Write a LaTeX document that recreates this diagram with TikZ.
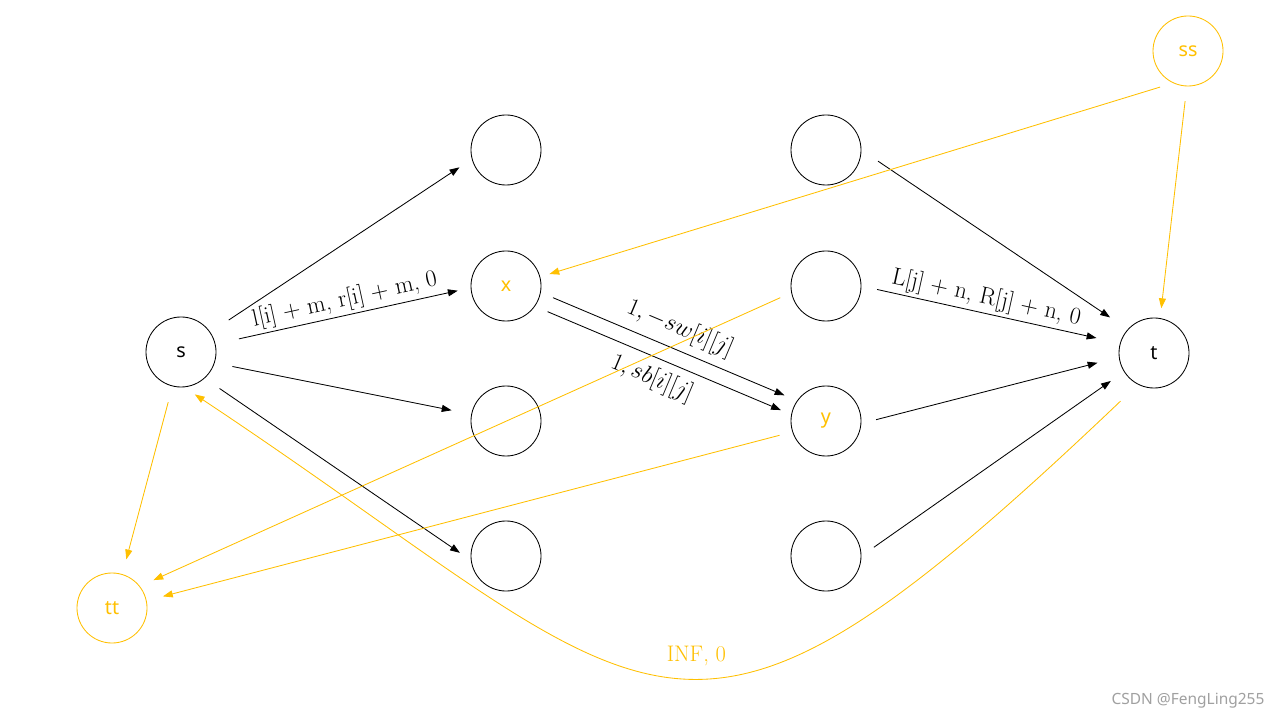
\documentclass[tikz,border=0pt]{standalone}
\usepackage{fontspec}
\setsansfont{Noto Sans}
\usetikzlibrary{arrows.meta}
\definecolor{gold}{HTML}{FFC000}
\definecolor{wm}{HTML}{A0A0A0}
\begin{document}
\begin{tikzpicture}[x=0.025cm,y=-0.025cm,
  vtx/.style={circle,draw,line width=0.6pt,minimum size=1.75cm,inner sep=0pt,
    font=\sffamily\fontsize{14}{16}\selectfont},
  gvtx/.style={vtx,draw=gold,text=gold},
  edge/.style={-{Triangle[length=7pt,width=5pt]},line width=0.6pt},
  gedge/.style={edge,draw=gold,color=gold},
  lab/.style={font=\fontsize{17}{20}\selectfont,sloped,inner sep=2pt}
]
\useasboundingbox (0,0) rectangle (1280,720);
\fill[white] (0,0) rectangle (1280,720);

\node[vtx] (s) at (181,352) {s};
\node[vtx] (a1) at (506,150) {};
\node[vtx,text=gold] (x) at (506,286) {x};
\node[vtx] (a3) at (506,421) {};
\node[vtx] (a4) at (506,556) {};
\node[vtx] (b1) at (826,150) {};
\node[vtx] (b2) at (826,286) {};
\node[vtx,text=gold] (y) at (826,421) {y};
\node[vtx] (b4) at (826,556) {};
\node[vtx] (t) at (1154,353) {t};
\node[gvtx] (ss) at (1188,51) {ss};
\node[gvtx] (tt) at (112,608) {tt};

% black edges
\draw[edge,shorten <=0.55cm,shorten >=0.37cm] (s.34.2) -- (a1.195.2);
\draw[edge,shorten <=0.6cm,shorten >=0.33cm] (s.13.8) -- node[lab,above,pos=0.52]{l[i] $+$ m, r[i] $+$ m, 0} (x.183.6);
\draw[edge,shorten <=0.45cm,shorten >=0.5cm] (s.-18.8) -- (a3.169.5);
\draw[edge,shorten <=0.45cm,shorten >=0.33cm] (s.-48.8) -- (a4.187.1);
\draw[edge,shorten <=1.2cm,shorten >=1.2cm] ([shift={(2.7,-7)}]x.center) -- node[lab,above=4pt,pos=0.51]{$1, -sw[i][j]$} ([shift={(2.7,-7)}]y.center);
\draw[edge,shorten <=1.2cm,shorten >=1.15cm] ([shift={(-2.7,7)}]x.center) -- node[lab,below=4pt,pos=0.49]{$1, sb[i][j]$} ([shift={(-2.7,7)}]y.center);
\draw[edge,shorten <=0.5cm,shorten >=0.53cm] (b1.0) -- (t.138.6);
\draw[edge,shorten <=0.4cm,shorten >=0.6cm] (b2.0) -- node[lab,above,pos=0.47]{L[j] $+$ n, R[j] $+$ n, 0} (t.164.2);
\draw[edge,shorten <=0.38cm,shorten >=0.55cm] (y.-4.6) -- (t.187.4);
\draw[edge,shorten <=0.38cm,shorten >=0.4cm] (b4.0) -- (t.212.3);

% gold edges
\draw[gedge,shorten <=0.34cm,shorten >=0.24cm] (ss.245) -- (x.15.6);
\draw[gedge,shorten <=0.37cm,shorten >=0.25cm] (ss.268.9) -- (t.80.8);
\draw[gedge,shorten <=0.3cm,shorten >=0.37cm] (b2.191.1) -- (tt.38.5);
\draw[gedge,shorten <=0.33cm,shorten >=0.42cm] (y.198.1) -- (tt.12.2);
\draw[gedge,shorten <=0.41cm,shorten >=0.38cm] (s.256.5) -- (tt.73.1);
\draw[gedge,shorten <=0.6cm,shorten >=0.32cm] (t.243) .. controls (670,830) and (670,710) .. node[pos=0.46,above=3pt,font=\fontsize{16}{19}\selectfont]{INF, 0} (s.275.2);

\node[text=wm,font=\sffamily\fontsize{11}{13}\selectfont] (wmk) at (1188,701) {CSDN @FengLing255};
\end{tikzpicture}
\end{document}
